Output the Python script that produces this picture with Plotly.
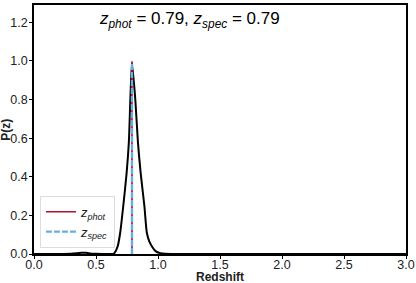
import plotly.graph_objects as go

# Data
redshift = [0.0, 0.1, 0.2, 0.3, 0.35, 0.38, 0.40, 0.42, 0.45, 0.5, 0.55, 0.6, 0.63,
            0.64, 0.65, 0.675, 0.695, 0.72, 0.747, 0.765, 0.777, 0.79, 0.817, 0.838,
            0.86, 0.89, 0.91, 0.93, 0.95, 0.98, 1.02, 1.06, 1.1, 1.2, 1.5, 2.0, 2.5, 3.0]
pz = [0.0, 0.0, 0.0, 0.001, 0.004, 0.006, 0.007, 0.006, 0.003, 0.001, 0.0, 0.0, 0.0,
      0.001, 0.006, 0.04, 0.11, 0.25, 0.42, 0.58, 0.80, 0.99, 0.80, 0.58,
      0.42, 0.25, 0.11, 0.065, 0.04, 0.015, 0.004, 0.001, 0.0, 0.0, 0.0, 0.0, 0.0, 0.0]
z_phot = 0.79
z_spec = 0.79
vline_top = 1.0

x_ticks = [0.0, 0.5, 1.0, 1.5, 2.0, 2.5, 3.0]
y_ticks = [0.0, 0.2, 0.4, 0.6, 0.8, 1.0, 1.2]

fig = go.Figure()
fig.add_trace(go.Scatter(x=redshift, y=pz, mode="lines",
                         line=dict(color="black", width=2, shape="spline", smoothing=0.6),
                         showlegend=False, hoverinfo="skip"))
fig.add_trace(go.Scatter(x=[z_phot, z_phot], y=[0, vline_top], mode="lines",
                         line=dict(color="#b0102a", width=1.6),
                         name="<i>z<sub>phot</sub></i>"))
fig.add_trace(go.Scatter(x=[z_spec, z_spec], y=[0, vline_top], mode="lines",
                         line=dict(color="#6aaee0", width=2.4, dash="6px,2px"),
                         name="<i>z<sub>spec</sub></i>"))

fig.add_annotation(x=0.417, y=0.94, xref="paper", yref="paper",
                   text=f"<i>z<sub>phot</sub></i> = {z_phot:.2f}, <i>z<sub>spec</sub></i> = {z_spec:.2f}",
                   showarrow=False, font=dict(size=17, color="black"),
                   xanchor="center", yanchor="middle")
# axis titles placed as annotations
fig.add_annotation(x=0.5, y=-0.093, xref="paper", yref="paper", text="<b>Redshift</b>",
                   showarrow=False, font=dict(size=12, color="#222"),
                   xanchor="center", yanchor="middle")
fig.add_annotation(x=-0.077, y=0.5, xref="paper", yref="paper", text="<b>P(z)</b>",
                   showarrow=False, font=dict(size=12, color="#222"), textangle=-90,
                   xanchor="center", yanchor="middle")

axis_common = dict(showline=True, linecolor="black", linewidth=1.5, mirror=True,
                   ticks="outside", ticklen=3, tickwidth=1, tickcolor="black",
                   showgrid=False, zeroline=False, automargin=False,
                   tickfont=dict(size=12.5, color="#222"))
fig.update_xaxes(range=[0, 3], tickvals=x_ticks, tickformat=".1f",
                 ticklabelstandoff=-5, **axis_common)
fig.update_yaxes(range=[0, 1.29], tickvals=y_ticks, tickformat=".1f",
                 ticklabelstandoff=-1, **axis_common)

fig.update_layout(width=416, height=283,
                  margin=dict(l=34, r=10, t=5, b=29),
                  plot_bgcolor="white", paper_bgcolor="white",
                  font=dict(family="Liberation Sans, Arial, sans-serif"),
                  legend=dict(x=0.016, y=0.025, xanchor="left", yanchor="bottom",
                              bgcolor="rgba(255,255,255,0.8)", bordercolor="#dddddd", borderwidth=1,
                              font=dict(size=13, color="#222"), itemwidth=30,
                              tracegroupgap=0))

fig.write_html("out.html", config={"displayModeBar": False},
               post_script="document.body.style.margin='0';document.body.style.padding='0';document.body.style.overflow='hidden';")
